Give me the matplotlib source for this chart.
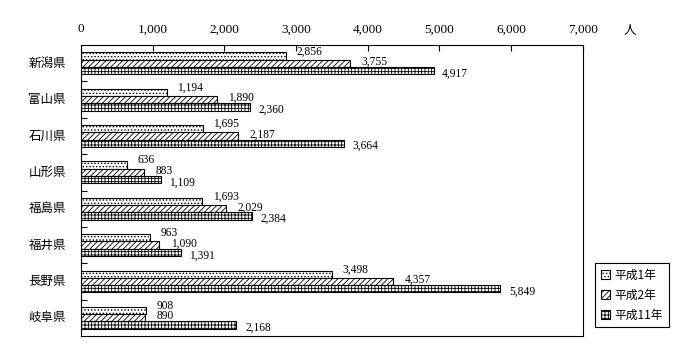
import matplotlib.pyplot as plt
from matplotlib.patches import Patch

plt.rcParams['font.family'] = ['Noto Sans CJK JP', 'DejaVu Sans']
plt.rcParams['hatch.linewidth'] = 0.6

prefs = ["新潟県", "富山県", "石川県", "山形県", "福島県", "福井県", "長野県", "岐阜県"]
series = ["平成1年", "平成2年", "平成11年"]
h1 = [2856, 1194, 1695, 636, 1693, 963, 3498, 908]
h2 = [3755, 1890, 2187, 883, 2029, 1090, 4357, 890]
h11 = [4917, 2360, 3664, 1109, 2384, 1391, 5849, 2168]

values = [h1, h2, h11]
hatches = ['.....', '//////', '+++++']
offsets = [-0.2, 0.0, 0.2]
label_dx = [150, 160, 120]
label_dy = [-0.13, -0.04, 0.08]

fig = plt.figure(figsize=(7, 3.6), dpi=100)
ax = fig.add_axes([0.1157, 0.0667, 0.717, 0.808])

for vals, hat, off, dx, dy in zip(values, hatches, offsets, label_dx, label_dy):
    ys = [i + off for i in range(len(prefs))]
    ax.barh(ys, vals, height=0.2, color='white', edgecolor='black',
            linewidth=0.8, hatch=hat)
    for y, v in zip(ys, vals):
        ax.text(v + dx, y + dy, f"{v:,}", ha='left', va='center',
                fontsize=8.3, family='Liberation Serif')

ax.set_xlim(0, 7000)
ax.set_ylim(len(prefs) - 0.5, -0.5)
ax.xaxis.tick_top()
ax.set_xticks(range(0, 7001, 1000))
ax.set_xticklabels([f"{t:,}" for t in range(0, 7001, 1000)],
                   family='Liberation Serif', fontsize=9.5)
ax.tick_params(axis='x', direction='in', length=4, pad=7, width=0.8)

ax.set_yticks([i + 0.5 for i in range(len(prefs) - 1)])
ax.set_yticklabels([])
ax.tick_params(axis='y', direction='in', length=4, width=0.8)
for i, p in enumerate(prefs):
    ax.text(-0.03, i, p, transform=ax.get_yaxis_transform(), ha='right',
            va='center', fontsize=9)

for s in ax.spines.values():
    s.set_linewidth(0.8)

fig.text(0.9, 0.915, "人", fontsize=9, ha='center', va='center')

handles = [Patch(facecolor='white', edgecolor='black', hatch=h, linewidth=0.8)
           for h in hatches]
leg = fig.legend(handles, series, loc='lower left',
                 bbox_to_anchor=(0.842, 0.075), fontsize=8.5,
                 fancybox=False, edgecolor='black', framealpha=1,
                 handlelength=0.8, handleheight=0.8, handletextpad=0.4,
                 borderpad=0.45, labelspacing=0.6)
leg.get_frame().set_linewidth(0.8)

fig.savefig("out.png", dpi=100)
